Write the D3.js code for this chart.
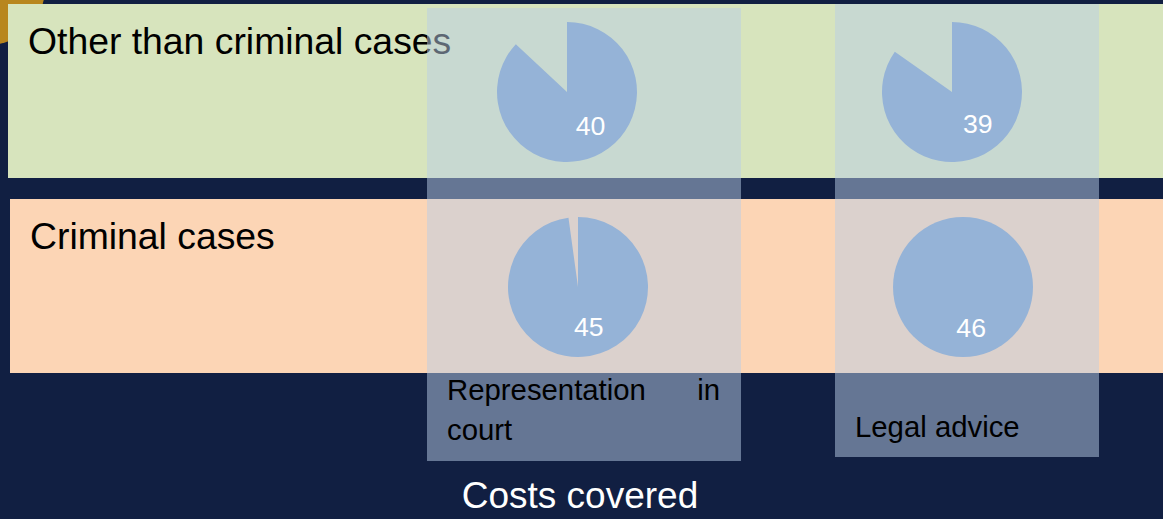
<!DOCTYPE html>
<html>
<head>
<meta charset="utf-8">
<script src="https://cdn.jsdelivr.net/npm/d3@7"></script>
<style>
	html, body { margin: 0; padding: 0; background: #111f42; }
	svg { display: block; font-family: "Liberation Sans", Arial, sans-serif; }
</style>
</head>
<body>
<svg id="chart" width="1163" height="519"></svg>
<script>
/* global d3 */

// rows = case types, columns = kind of cost covered
const rows = ['Other than criminal cases', 'Criminal cases'];
const columns = ['Representation in court', 'Legal advice'];
// number of countries covering the cost, out of all countries
const otherValues = [40, 39];
const criminalValues = [45, 46];
const totalCountries = 46;
const axisTitle = 'Costs covered';

const width = 1163;
const height = 519;

const svg = d3.select('#chart');

svg.append('rect')
	.attr('width', width)
	.attr('height', height)
	.attr('fill', '#111f42');

// bit of the template's gold circle peeking out at the corner
svg.append('circle')
	.attr('cx', -12)
	.attr('cy', -12)
	.attr('r', 57)
	.attr('fill', '#b8861e');

const y = d3.scaleBand()
	.domain(rows)
	.range([4, 373])
	.paddingInner(0.1077);

const bandLeft = [8, 10];
const bandColors = ['#d7e4bd', '#fcd5b5'];

svg.selectAll('rect.band')
	.data(rows)
	.enter().append('rect')
	.attr('class', 'band')
	.attr('x', (d, i) => bandLeft[i])
	.attr('y', d => y(d))
	.attr('width', (d, i) => width - bandLeft[i])
	.attr('height', y.bandwidth())
	.attr('fill', (d, i) => bandColors[i]);

svg.selectAll('text.row-label')
	.data(rows)
	.enter().append('text')
	.attr('class', 'row-label')
	.attr('x', (d, i) => bandLeft[i] + 20)
	.attr('y', d => y(d) + 49.5)
	.attr('font-size', '37.33px')
	.attr('fill', '#000')
	.text(d => d);

// column boxes, drawn over the bands
const colLeft = [427, 835];
const colRight = [741, 1099];
const colTop = [8, 4];
const colBottom = [461, 457];

svg.selectAll('rect.column')
	.data(columns)
	.enter().append('rect')
	.attr('class', 'column')
	.attr('x', (d, i) => colLeft[i])
	.attr('y', (d, i) => colTop[i])
	.attr('width', (d, i) => colRight[i] - colLeft[i])
	.attr('height', (d, i) => colBottom[i] - colTop[i])
	.attr('fill', '#b9cde5')
	.attr('fill-opacity', 0.5);

// pies
const x = d3.scaleOrdinal()
	.domain(columns)
	.range([572, 957]);
const rowShift = [-5, 6];
const radius = 70;
const labelRadius = 41;

const pie = d3.pie().sort(null).value(d => d);
const arc = d3.arc().innerRadius(0).outerRadius(radius);

const cells = [];
[otherValues, criminalValues].forEach((vals, r) => {
	vals.forEach((v, c) => {
		cells.push({row: rows[r], col: columns[c], r, value: v});
	});
});

const pieGroups = svg.selectAll('g.pie')
	.data(cells)
	.enter().append('g')
	.attr('class', 'pie')
	.attr('transform', d => `translate(${x(d.col) + rowShift[d.r]},${y(d.row) + y.bandwidth() / 2 + 1})`);

pieGroups.each(function (d) {
	const g = d3.select(this);
	const slices = pie([d.value, totalCountries - d.value]);
	const filled = slices[0];

	g.append('path')
		.attr('d', arc(filled))
		.attr('fill', '#95b3d7');

	// label sits a little right of the slice's middle angle
	const a = (filled.startAngle + filled.endAngle) / 2 - 0.2;
	g.append('text')
		.attr('x', labelRadius * Math.sin(a))
		.attr('y', -labelRadius * Math.cos(a))
		.attr('dy', '0.35em')
		.attr('text-anchor', 'middle')
		.attr('font-size', '26.67px')
		.attr('fill', '#fff')
		.text(d.value);
});

// column labels, justified inside the box
const colFont = 29.33;
const colPad = 20;

columns.forEach((name, i) => {
	const left = colLeft[i] + colPad;
	const right = colRight[i] - colPad - 1;
	const words = name.split(' ');
	const probe = svg.append('text').attr('font-size', `${colFont}px`);
	const measure = s => { probe.text(s); return probe.node().getComputedTextLength(); };

	const lines = [];
	let line = [];
	words.forEach(w => {
		const trial = line.concat(w).join(' ');
		if (line.length && measure(trial) > right - left) {
			lines.push(line);
			line = [w];
		} else {
			line.push(w);
		}
	});
	lines.push(line);

	const firstBase = lines.length > 1 ? 399.5 : 436.7;

	lines.forEach((ws, li) => {
		const base = firstBase + li * 40;
		const last = li === lines.length - 1;
		if (last || ws.length === 1) {
			svg.append('text')
				.attr('x', left)
				.attr('y', base)
				.attr('font-size', `${colFont}px`)
				.attr('fill', '#000')
				.text(ws.join(' '));
		} else {
			const widths = ws.map(measure);
			const gap = (right - left - d3.sum(widths)) / (ws.length - 1);
			let cx = left;
			ws.forEach((w, wi) => {
				svg.append('text')
					.attr('x', cx)
					.attr('y', base)
					.attr('font-size', `${colFont}px`)
					.attr('fill', '#000')
					.text(w);
				cx += widths[wi] + gap;
			});
		}
	});
	probe.remove();
});

svg.append('text')
	.attr('x', 580)
	.attr('y', 508)
	.attr('text-anchor', 'middle')
	.attr('font-size', '37px')
	.attr('fill', '#fff')
	.text(axisTitle);
</script>
</body>
</html>
